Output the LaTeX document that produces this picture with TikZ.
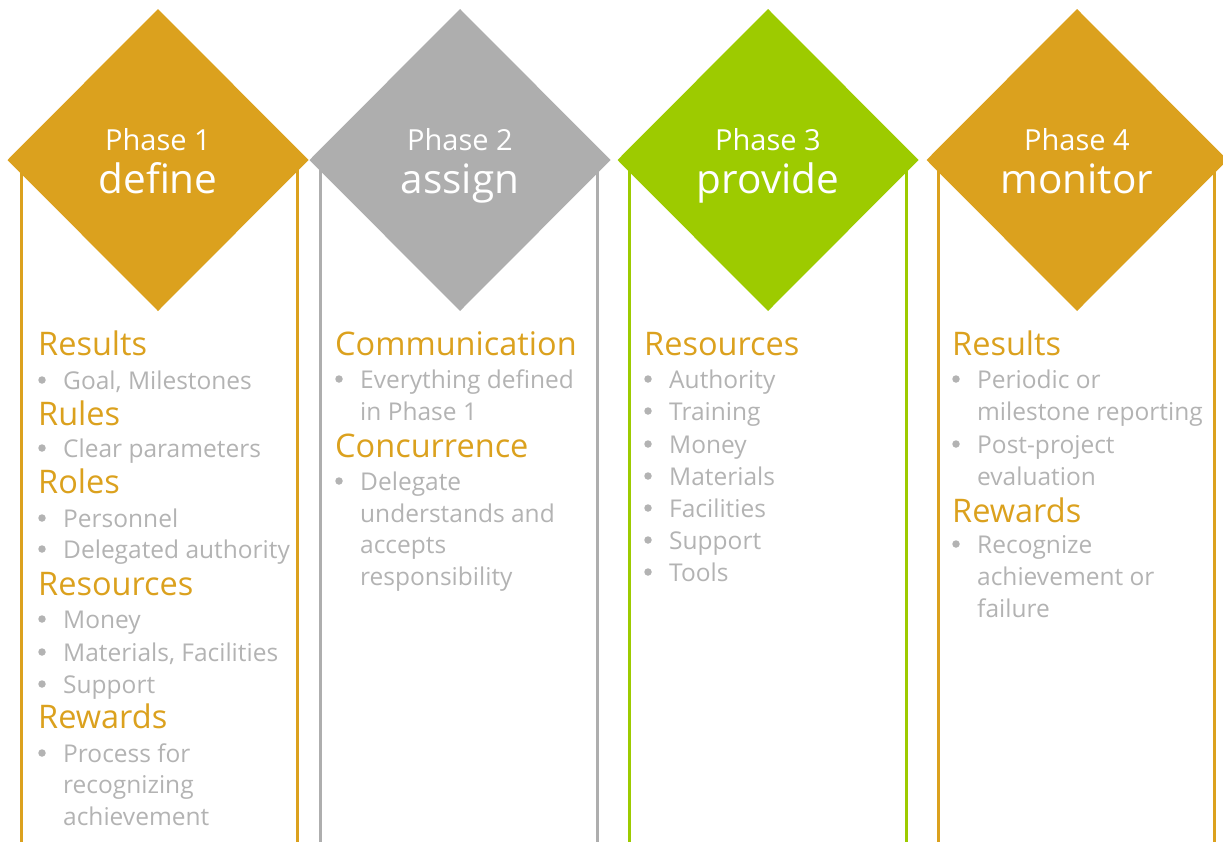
\documentclass[tikz,border=0pt]{standalone}
\usepackage{fontspec}
\setmainfont{Open Sans}
\usetikzlibrary{shapes.geometric}
\definecolor{gold}{HTML}{DBA11E}
\definecolor{phgray}{HTML}{AEAEAE}
\definecolor{phgreen}{HTML}{9DCB00}
\definecolor{itemgray}{HTML}{B3B3B3}
\newcommand\Head[4]{\node[head] (#1) at (#2,#3) {#4};}
\newcommand\Item[4]{\node[item] (#1) at (#2,#3) {#4};
  \node[dot] (#1b) at ([xshift=-21pt,yshift=9pt]#1.base west) {};}
\newcommand\Cont[4]{\node[item] (#1) at (#2,#3) {#4};}
\begin{document}
\begin{tikzpicture}[x=1pt,y=-1pt,
  phase/.style={diamond, aspect=1, minimum width=301pt, minimum height=302pt, inner sep=0pt, outer sep=0pt, fill=#1},
  rail/.style={draw=#1, line width=3pt},
  ptitle/.style={text=white, font=\fontsize{29}{29}\selectfont, anchor=base, inner sep=0pt},
  pword/.style={text=white, font=\fontsize{40.5}{40.5}\selectfont, anchor=base, inner sep=0pt},
  head/.style={text=gold, font=\fontsize{32.5}{32.5}\selectfont, anchor=base west, inner sep=0pt},
  item/.style={text=itemgray, font=\fontsize{24.5}{24.5}\selectfont, anchor=base west, inner sep=0pt},
  dot/.style={circle, fill=itemgray, minimum size=7.5pt, inner sep=0pt}
]
\useasboundingbox (0,0) rectangle (1223,841);
% rails
\coordinate (r1a) at (21,160);  \coordinate (r1b) at (21,845);
\coordinate (r1c) at (297,160); \coordinate (r1d) at (297,845);
\coordinate (r2a) at (320,160); \coordinate (r2b) at (320,845);
\coordinate (r2c) at (597,160); \coordinate (r2d) at (597,845);
\coordinate (r3a) at (629,160); \coordinate (r3b) at (629,845);
\coordinate (r3c) at (906,160); \coordinate (r3d) at (906,845);
\coordinate (r4a) at (938,160); \coordinate (r4b) at (938,845);
\coordinate (r4c) at (1214,160);\coordinate (r4d) at (1214,845);
\draw[rail=gold] (r1a) -- (r1b);
\draw[rail=gold] (r1c) -- (r1d);
\draw[rail=phgray] (r2a) -- (r2b);
\draw[rail=phgray] (r2c) -- (r2d);
\draw[rail=phgreen] (r3a) -- (r3b);
\draw[rail=phgreen] (r3c) -- (r3d);
\draw[rail=gold] (r4a) -- (r4b);
\draw[rail=gold] (r4c) -- (r4d);
% diamonds
\node[phase=gold]    (d1) at (158,160) {};
\node[phase=phgray]  (d2) at (460,160) {};
\node[phase=phgreen] (d3) at (768,160) {};
\node[phase=gold]    (d4) at (1077,160) {};
\node[ptitle] (p1) at (158,150) {Phase 1};
\node[pword]  (w1) at (158,193) {define};
\node[ptitle] (p2) at (460,150) {Phase 2};
\node[pword]  (w2) at (460,193) {assign};
\node[ptitle] (p3) at (768,150) {Phase 3};
\node[pword]  (w3) at (768,193) {provide};
\node[ptitle] (p4) at (1077,150) {Phase 4};
\node[pword]  (w4) at (1077,193) {monitor};
% column 1
\Head{a1}{38}{355}{Results}
\Item{a2}{63}{389}{Goal, Milestones}
\Head{a3}{38}{425}{Rules}
\Item{a4}{63}{457}{Clear parameters}
\Head{a5}{38}{493}{Roles}
\Item{a6}{63}{527}{Personnel}
\Item{a7}{63}{558}{Delegated authority}
\Head{a8}{38}{595}{Resources}
\Item{a9}{63}{628}{Money}
\Item{a10}{63}{661}{Materials, Facilities}
\Item{a11}{63}{693}{Support}
\Head{a12}{38}{728}{Rewards}
\Item{a13}{63}{762}{Process for}
\Cont{a14}{63}{793}{recognizing}
\Cont{a15}{63}{825}{achievement}
% column 2
\Head{b1}{335}{355}{Communication}
\Item{b2}{360}{388}{Everything defined}
\Cont{b3}{360}{420}{in Phase 1}
\Head{b4}{335}{457}{Concurrence}
\Item{b5}{360}{490}{Delegate}
\Cont{b6}{360}{522}{understands and}
\Cont{b7}{360}{553}{accepts}
\Cont{b8}{360}{585}{responsibility}
% column 3
\Head{c1}{644}{355}{Resources}
\Item{c2}{669}{388}{Authority}
\Item{c3}{669}{420}{Training}
\Item{c4}{669}{453}{Money}
\Item{c5}{669}{485}{Materials}
\Item{c6}{669}{517}{Facilities}
\Item{c7}{669}{549}{Support}
\Item{c8}{669}{581}{Tools}
% column 4
\Head{e1}{952}{355}{Results}
\Item{e2}{977}{388}{Periodic or}
\Cont{e3}{977}{420}{milestone reporting}
\Item{e4}{977}{453}{Post-project}
\Cont{e5}{977}{485}{evaluation}
\Head{e6}{952}{522}{Rewards}
\Item{e7}{977}{553}{Recognize}
\Cont{e8}{977}{585}{achievement or}
\Cont{e9}{977}{617}{failure}
\end{tikzpicture}
\end{document}
